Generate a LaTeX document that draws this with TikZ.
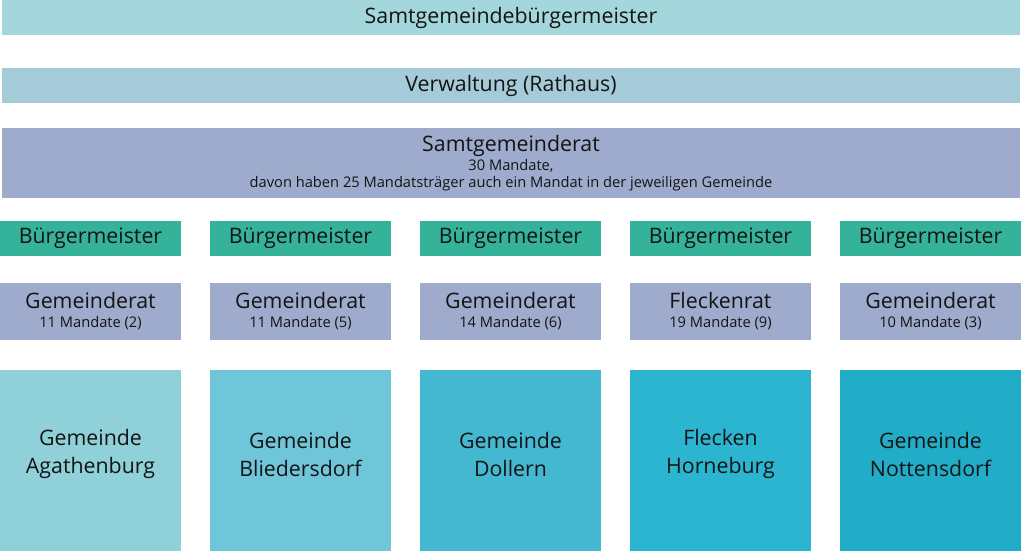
\documentclass[tikz,border=0pt]{standalone}
\usepackage{fontspec}
\setmainfont{Open Sans}
\definecolor{c1}{HTML}{A3D7DB}
\definecolor{c2}{HTML}{A5CAD8}
\definecolor{c3}{HTML}{9EABCD}
\definecolor{cg}{HTML}{35B39A}
\definecolor{b1}{HTML}{8FD0D9}
\definecolor{b2}{HTML}{6FC6D9}
\definecolor{b3}{HTML}{45B8D1}
\definecolor{b4}{HTML}{2CB5D1}
\definecolor{b5}{HTML}{21ADC8}
\newcommand{\bigf}{\fontsize{16}{18}\selectfont}
\newcommand{\smf}{\fontsize{11}{13}\selectfont}
\begin{document}
\begin{tikzpicture}[x=0.75pt,y=-0.75pt,
  box/.style={inner sep=0pt,align=center,text=black!92},
  big/.style={font=\bigf}]
\useasboundingbox (0,0) rectangle (1024,551);
\fill[c1] (2,0) rectangle (1020,35); \node[box,big] (t1) at (511,17.5) {Samtgemeindebürgermeister};
\fill[c2] (2,68) rectangle (1020,103); \node[box,big] (t2) at (511,85.5) {Verwaltung (Rathaus)};
\fill[c3] (2,128) rectangle (1020,198);
\node[box,font=\smf] (t3) at (511,163) {\bigf Samtgemeinderat\\[1pt] \smf 30 Mandate,\\ \smf davon haben 25 Mandatsträger auch ein Mandat in der jeweiligen Gemeinde};
\foreach \i/\r/\m/\c/\a/\b in {0/Gemeinderat/11 Mandate (2)/b1/Gemeinde/Agathenburg,
  1/Gemeinderat/11 Mandate (5)/b2/Gemeinde/Bliedersdorf,
  2/Gemeinderat/14 Mandate (6)/b3/Gemeinde/Dollern,
  3/Fleckenrat/19 Mandate (9)/b4/Flecken/Horneburg,
  4/Gemeinderat/10 Mandate (3)/b5/Gemeinde/Nottensdorf}{
  \pgfmathsetmacro\xl{\i*210}
  \fill[cg] (\xl,221) rectangle ++(181,35);
  \node[box,big] (bm\i) at (\xl+90.5,238.5) {Bürgermeister};
  \fill[c3] (\xl,283) rectangle ++(181,57);
  \node[box,font=\smf] (gr\i) at (\xl+90.5,311) {\bigf \r\\[1pt] \smf \m};
  \fill[\c] (\xl,370) rectangle ++(181,181);
  \node[box,font=\fontsize{16}{21}\selectfont] (g\i) at (\xl+90.5,454) {\a\\\b};
}
\end{tikzpicture}
\end{document}
